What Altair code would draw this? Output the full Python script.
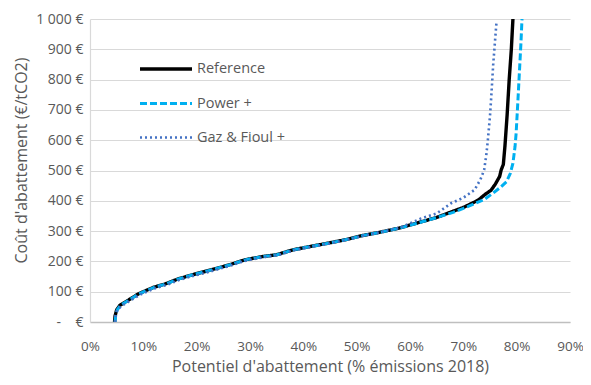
import altair as alt
import pandas as pd

series_names = ["Reference", "Power +", "Gaz & Fioul +"]

ref_x = [4.6, 4.7, 5.0, 5.6, 7.0, 9.0, 10.0, 12.0, 14.0, 16.5, 19.0, 22.7, 26.0, 29.0, 32.0, 35.0,
         38.0, 41.5, 44.6, 48.0, 51.0, 54.0, 58.0, 62.0, 65.0, 68.0, 70.0, 72.0, 73.0, 74.0, 75.2,
         76.0, 76.8, 77.1, 77.5, 77.8, 78.2, 78.6, 79.0, 79.3]
ref_y = [0, 20, 40, 55, 70, 92, 100, 115, 125, 142, 155, 172, 188, 205, 215, 222,
         238, 250, 260, 272, 285, 295, 310, 330, 345, 365, 378, 395, 405, 420, 435,
         455, 480, 502, 520, 580, 680, 800, 900, 1000]

pow_x = [4.7, 4.8, 5.1, 5.7, 7.1, 9.1, 10.1, 12.1, 14.1, 16.6, 19.1, 22.8, 26.1, 29.1, 32.1, 35.1,
         38.1, 41.6, 44.7, 48.1, 51.1, 54.1, 58.1, 62.1, 65.1, 68.1, 70.0, 72.0, 74.0, 75.9, 77.0,
         78.1, 78.8, 79.3, 79.7, 79.9, 80.2, 80.5, 80.8, 81.0]
pow_y = [0, 20, 40, 55, 70, 92, 100, 115, 125, 142, 155, 172, 188, 205, 215, 222,
         238, 250, 260, 272, 285, 295, 310, 330, 345, 362, 375, 390, 405, 430, 445,
         463, 490, 524, 580, 623, 720, 820, 920, 1000]

gaz_x = [4.7, 4.8, 5.1, 5.8, 7.2, 9.3, 10.3, 12.3, 14.3, 16.8, 19.3, 23.0, 26.3, 29.3, 32.3, 35.3,
         38.3, 41.8, 44.9, 48.3, 51.3, 54.3, 58.2, 62.1, 65.0, 67.7, 70.0, 72.1, 73.2, 73.9, 74.3,
         74.6, 75.0, 75.2, 75.6, 76.2]
gaz_y = [0, 18, 38, 52, 67, 89, 97, 112, 122, 139, 152, 169, 186, 203, 213, 221,
         237, 249, 259, 272, 285, 296, 312, 342, 358, 392, 410, 436, 470, 502, 550,
         601, 680, 733, 850, 986]

rows = []
for name, xs, ys in [(series_names[0], ref_x, ref_y),
                     (series_names[1], pow_x, pow_y),
                     (series_names[2], gaz_x, gaz_y)]:
    for i, (a, b) in enumerate(zip(xs, ys)):
        rows.append({"serie": name, "x": a, "y": b, "i": i})
df = pd.DataFrame(rows)

FONT = "Open Sans"
GREY = "#595959"

nb = "\u00a0"
y_label_expr = ("datum.value == 0 ? '-" + nb * 4 + "€' : replace(format(datum.value, ','), ',', '" + nb + "') + '" + nb + "€'")


def leg():
    return alt.Legend(title=None, orient="none", legendX=48, legendY=22,
                      symbolType="stroke", symbolSize=2704,
                      rowPadding=-21, labelOffset=3,
                      labelFontSize=14.5, labelColor=GREY, labelFont=FONT)


chart = alt.Chart(df).mark_line(clip=True).encode(
    x=alt.X("x:Q", scale=alt.Scale(domain=[0, 90], nice=False),
            axis=alt.Axis(values=list(range(0, 91, 10)), labelExpr="datum.value + '%'",
                          title="Potentiel d'abattement (% émissions 2018)",
                          grid=False, ticks=False, labelFlush=False,
                          labelFontSize=13.5,
                          labelPadding=17, titlePadding=6,
                          domainColor="#bfbfbf", domainWidth=1.5)),
    y=alt.Y("y:Q", scale=alt.Scale(domain=[0, 1000], nice=False),
            axis=alt.Axis(values=list(range(0, 1001, 100)), labelExpr=y_label_expr,
                          title="Coût d'abattement (€/tCO2)",
                          grid=True, gridColor="#d9d9d9", gridWidth=1.2,
                          ticks=False, labelFlush=False, labelPadding=7, titlePadding=6,
                          titleY=141,
                          domainColor="#d9d9d9", domainWidth=1.2)),
    color=alt.Color("serie:N", scale=alt.Scale(domain=series_names,
                                               range=["#000000", "#00b0f0", "#4472c4"]),
                    legend=leg()),
    strokeDash=alt.StrokeDash("serie:N", scale=alt.Scale(domain=series_names,
                                                         range=[[1, 0], [7, 3], [2, 3]]),
                              legend=leg()),
    strokeWidth=alt.StrokeWidth("serie:N", scale=alt.Scale(domain=series_names,
                                                           range=[3.4, 2.6, 2.2]),
                                legend=leg()),
    detail="serie:N",
    order="i:Q",
).properties(
    width=480, height=303,
    autosize=alt.AutoSizeParams(type="none"),
    padding={"left": 82, "top": 11, "right": 13, "bottom": 55},
).configure_view(stroke=None).configure_axis(
    labelFont=FONT, titleFont=FONT, labelFontSize=14, titleFontSize=16,
    labelColor=GREY, titleColor=GREY, titleFontWeight="normal",
)

chart.save("out.html", embed_options={"renderer": "svg", "actions": False})
